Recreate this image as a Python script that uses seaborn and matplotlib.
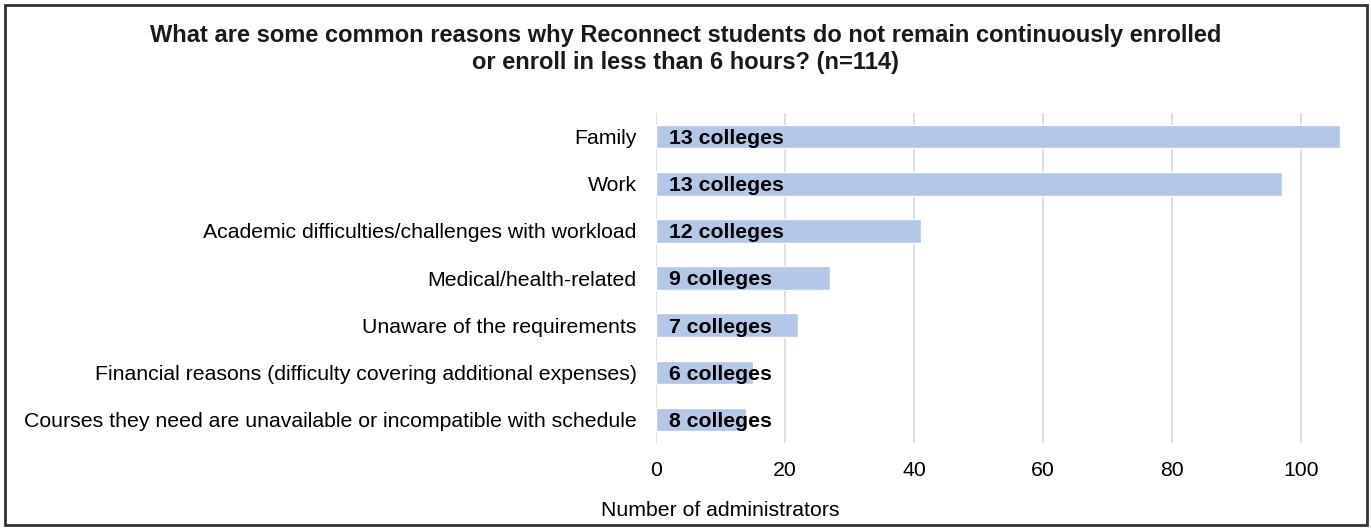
import matplotlib
matplotlib.use("Agg")
import matplotlib.pyplot as plt
import seaborn as sns
import pandas as pd
from matplotlib.patches import Rectangle

categories = [
    "Family",
    "Work",
    "Academic difficulties/challenges with workload",
    "Medical/health-related",
    "Unaware of the requirements",
    "Financial reasons (difficulty covering additional expenses)",
    "Courses they need are unavailable or incompatible with schedule",
]
admins = [106, 97, 41, 27, 22, 15, 14]
bar_labels = ["13 colleges", "13 colleges", "12 colleges", "9 colleges",
              "7 colleges", "6 colleges", "8 colleges"]
xticks = [0, 20, 40, 60, 80, 100]

sns.set_theme(style="white")
plt.rcParams['font.family'] = ['Liberation Sans', 'DejaVu Sans']

df = pd.DataFrame({"reason": categories, "n": admins})

fig = plt.figure(figsize=(13.71, 5.29), dpi=100)
ax = fig.add_axes([656/1371, 1-443/529, (1340-656)/1371, (443-113)/529])

sns.barplot(data=df, y="reason", x="n", orient="h", color="#b4c7e7",
            width=0.5, ax=ax, zorder=3, saturation=1)

for i, lab in enumerate(bar_labels):
    ax.text(2, i + 0.04, lab, va="center", ha="left", fontsize=15.3,
            fontweight="bold", color="#000000", zorder=4)

ax.set_xlim(0, 106)
ax.set_ylim(6.5, -0.5)
ax.set_xticks(xticks)
ax.set_xticklabels([str(t) for t in xticks])
ax.xaxis.grid(True, color="#d9d9d9", linewidth=1.2, zorder=0)
ax.yaxis.grid(False)
for s in ax.spines.values():
    s.set_visible(False)
ax.tick_params(axis="both", length=0, labelsize=15.3, colors="#000000")
ax.tick_params(axis="y", pad=14)
ax.tick_params(axis="x", pad=13)
ax.set_xlabel("")
ax.set_ylabel("")

fig.text(720/1371, 1-510/529, "Number of administrators", ha="center",
         va="center", fontsize=15.3, color="#000000")

fig.text(0.5, 1-49/529,
         "What are some common reasons why Reconnect students do not remain continuously enrolled\n"
         "or enroll in less than 6 hours? (n=114)",
         ha="center", va="center", fontsize=17, fontweight="bold",
         color="#1a1a1a", linespacing=1.27)

fig.patches.append(Rectangle((5/1371, 4/529), 1362/1371, 520/529,
                             transform=fig.transFigure, fill=False,
                             edgecolor="#333333", linewidth=2))

fig.savefig("out.png", dpi=100)
